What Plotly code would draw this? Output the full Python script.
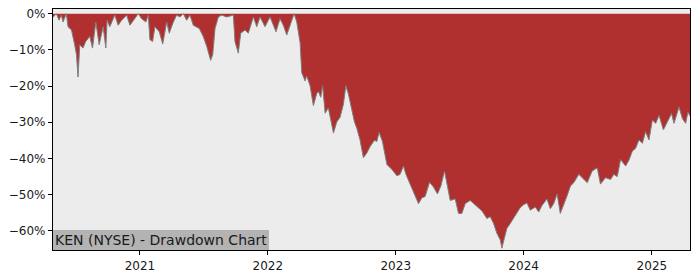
import pandas as pd
import plotly.graph_objects as go

# Time as decimal years, drawdown in percent
years = [
    2020.322, 2020.348, 2020.369, 2020.387, 2020.400, 2020.426, 2020.439, 2020.466, 2020.491, 2020.505,
    2020.517, 2020.531, 2020.556, 2020.577, 2020.609, 2020.630, 2020.656, 2020.682, 2020.713, 2020.734,
    2020.744, 2020.765, 2020.804, 2020.830, 2020.857, 2020.896, 2020.922, 2020.948, 2020.987, 2021.013,
    2021.047, 2021.065, 2021.078, 2021.099, 2021.117, 2021.151, 2021.178, 2021.209, 2021.229, 2021.261,
    2021.287, 2021.313, 2021.339, 2021.365, 2021.391, 2021.417, 2021.464, 2021.495, 2021.522, 2021.553,
    2021.569, 2021.587, 2021.613, 2021.639, 2021.678, 2021.730, 2021.743, 2021.769, 2021.788, 2021.822,
    2021.847, 2021.887, 2021.913, 2021.939, 2021.978, 2022.017, 2022.064, 2022.095, 2022.121, 2022.148,
    2022.174, 2022.205, 2022.226, 2022.252, 2022.265, 2022.291, 2022.304, 2022.330, 2022.356, 2022.383,
    2022.395, 2022.414, 2022.428, 2022.448, 2022.473, 2022.513, 2022.539, 2022.565, 2022.591, 2022.610,
    2022.630, 2022.651, 2022.677, 2022.696, 2022.721, 2022.747, 2022.774, 2022.800, 2022.833, 2022.852,
    2022.870, 2022.896, 2022.931, 2022.969, 2023.009, 2023.034, 2023.060, 2023.081, 2023.113, 2023.152,
    2023.178, 2023.204, 2023.230, 2023.264, 2023.295, 2023.326, 2023.353, 2023.381, 2023.400, 2023.426,
    2023.465, 2023.491, 2023.517, 2023.543, 2023.582, 2023.621, 2023.647, 2023.674, 2023.713, 2023.739,
    2023.765, 2023.791, 2023.817, 2023.830, 2023.848, 2023.869, 2023.895, 2023.921, 2023.948, 2023.973,
    2023.999, 2024.026, 2024.052, 2024.091, 2024.117, 2024.143, 2024.182, 2024.208, 2024.234, 2024.261,
    2024.286, 2024.312, 2024.339, 2024.365, 2024.391, 2024.430, 2024.469, 2024.496, 2024.534, 2024.574,
    2024.599, 2024.638, 2024.678, 2024.703, 2024.730, 2024.756, 2024.795, 2024.821, 2024.847, 2024.873,
    2024.899, 2024.926, 2024.951, 2024.977, 2025.004, 2025.030, 2025.056, 2025.090, 2025.121, 2025.153,
    2025.173, 2025.212, 2025.239, 2025.264, 2025.282, 2025.298,
]
drawdown = [
    -1.0, 0.0, -1.8, -0.4, -2.3, 0.0, -3.6, -4.5, -8.6, -11.3,
    -17.5, -8.6, -9.5, -7.7, -6.3, -9.5, -2.3, -8.6, -3.6, -9.5,
    -1.8, -3.6, -0.4, -3.2, -1.8, -0.4, -3.2, -1.8, 0.0, -1.4,
    -2.3, -0.4, -7.2, -7.7, -3.6, -5.0, -8.4, -2.3, -5.4, -2.3,
    -0.4, -0.9, 0.0, -1.8, -0.4, -3.2, -4.1, -6.3, -9.0, -12.9,
    -11.3, -4.1, -0.9, -0.4, -0.9, -0.4, -7.7, -10.9, -5.4, -4.5,
    -5.4, -0.9, -3.6, -0.9, -3.6, -0.9, -5.0, -1.4, -3.2, -5.9,
    -3.2, 0.0, -2.3, -8.0, -16.3, -18.6, -17.2, -19.9, -25.4, -22.0,
    -21.5, -23.1, -19.9, -27.5, -26.0, -33.0, -29.9, -28.6, -25.0, -19.9,
    -22.2, -25.4, -29.9, -31.7, -34.9, -39.8, -38.5, -36.7, -35.0, -35.3,
    -32.8, -35.3, -41.7, -43.0, -44.8, -44.4, -42.1, -44.5, -47.1, -50.7,
    -52.5, -50.9, -50.5, -46.6, -47.9, -49.8, -47.6, -43.5, -47.0, -51.6,
    -51.2, -55.2, -55.2, -52.5, -51.6, -52.9, -53.6, -54.5, -56.6, -56.1,
    -58.0, -60.7, -62.5, -64.8, -62.2, -59.3, -58.0, -56.6, -55.2, -53.6,
    -52.8, -52.3, -54.3, -53.4, -54.8, -53.0, -51.2, -53.9, -52.5, -49.8,
    -55.2, -53.0, -50.3, -47.6, -46.7, -44.4, -45.8, -46.7, -43.5, -42.6,
    -47.1, -45.3, -45.8, -44.4, -45.0, -40.3, -42.1, -40.5, -38.0, -37.2,
    -34.9, -35.8, -32.6, -34.9, -29.4, -30.3, -28.1, -32.1, -29.9, -27.6,
    -30.3, -25.8, -29.0, -30.3, -27.2, -28.3,
]
year_ticks = ["2021-01-01", "2022-01-01", "2023-01-01", "2024-01-01", "2025-01-01"]
year_labels = ["2021", "2022", "2023", "2024", "2025"]
pct_ticks = [0, -10, -20, -30, -40, -50, -60]
pct_labels = ["0%", "−10%", "−20%", "−30%", "−40%", "−50%", "−60%"]
label = "KEN (NYSE) - Drawdown Chart"


def to_date(y):
    yr = int(y)
    start = pd.Timestamp(year=yr, month=1, day=1)
    end = pd.Timestamp(year=yr + 1, month=1, day=1)
    return start + (end - start) * (y - yr)


dates = [to_date(y) for y in years]

fig = go.Figure()
fig.add_trace(go.Scatter(
    x=dates, y=drawdown, mode="lines",
    line=dict(color="#7f7f7f", width=1),
    fill="tozeroy", fillcolor="#b03030",
    hoverinfo="skip", showlegend=False,
))

axis_font = dict(family="DejaVu Sans", size=12, color="#1a1a1a")
fig.update_layout(
    width=700, height=280,
    margin=dict(l=53, r=10, t=7, b=28),
    paper_bgcolor="white", plot_bgcolor="#ececec",
    font=axis_font,
    xaxis=dict(
        range=[dates[0], dates[-1]],
        tickvals=year_ticks, ticktext=year_labels,
        showgrid=False, zeroline=False,
        showline=True, linecolor="black", linewidth=1.2, mirror=True,
        ticks="outside", ticklen=4, tickcolor="black",
        tickfont=axis_font, layer="above traces",
    ),
    yaxis=dict(
        range=[-65.3, 1.3],
        tickvals=pct_ticks, ticktext=pct_labels,
        showgrid=False, zeroline=False,
        showline=True, linecolor="black", linewidth=1.2, mirror=True,
        ticks="outside", ticklen=4, tickcolor="black",
        tickfont=axis_font, layer="above traces",
    ),
    annotations=[dict(
        text=label, xref="paper", yref="paper", x=0, y=0,
        xanchor="left", yanchor="bottom", showarrow=False,
        bgcolor="#b3b3b3", borderpad=2, borderwidth=0,
        font=dict(family="DejaVu Sans", size=14, color="#1a1a1a"),
    )],
)

fig.write_html("out.html")
